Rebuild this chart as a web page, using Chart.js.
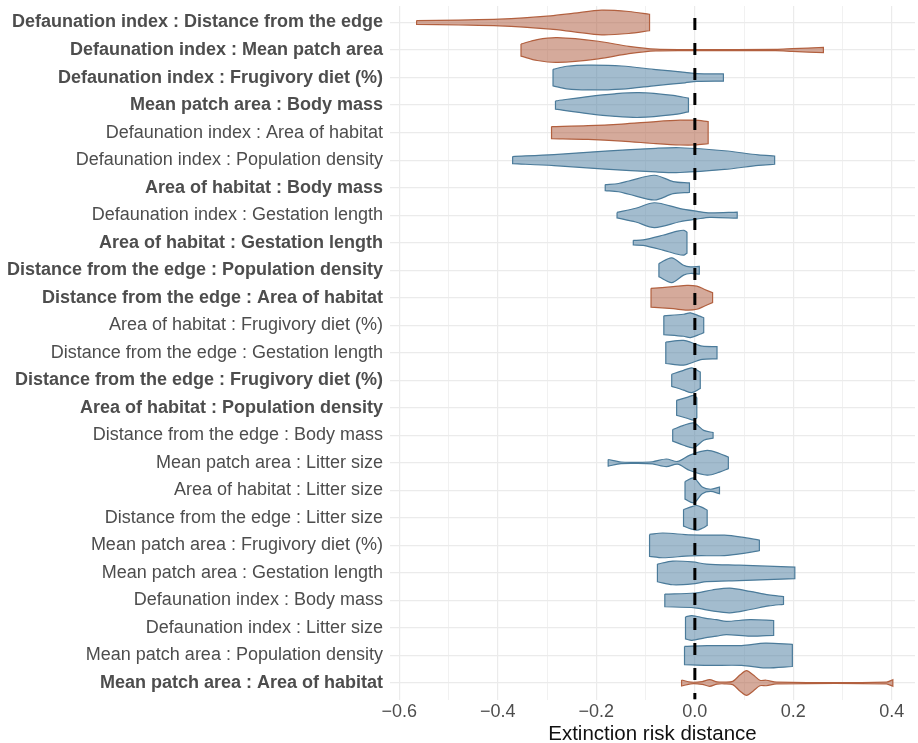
<!DOCTYPE html>
<html>
<head>
<meta charset="utf-8">
<script src="https://cdn.jsdelivr.net/npm/chart.js@4.4.1/dist/chart.umd.min.js"></script>
<style>
  html, body { margin: 0; padding: 0; background: #fff; }
  #wrap { width: 918px; height: 743px; }
</style>
</head>
<body>
<div id="wrap"><canvas id="violins"></canvas></div>
<script>
// rows, top to bottom
const rowLabels = [
    'Defaunation index : Distance from the edge',
    'Defaunation index : Mean patch area',
    'Defaunation index : Frugivory diet (%)',
    'Mean patch area : Body mass',
    'Defaunation index : Area of habitat',
    'Defaunation index : Population density',
    'Area of habitat : Body mass',
    'Defaunation index : Gestation length',
    'Area of habitat : Gestation length',
    'Distance from the edge : Population density',
    'Distance from the edge : Area of habitat',
    'Area of habitat : Frugivory diet (%)',
    'Distance from the edge : Gestation length',
    'Distance from the edge : Frugivory diet (%)',
    'Area of habitat : Population density',
    'Distance from the edge : Body mass',
    'Mean patch area : Litter size',
    'Area of habitat : Litter size',
    'Distance from the edge : Litter size',
    'Mean patch area : Frugivory diet (%)',
    'Mean patch area : Gestation length',
    'Defaunation index : Body mass',
    'Defaunation index : Litter size',
    'Mean patch area : Population density',
    'Mean patch area : Area of habitat'
];
const boldRows = [0, 1, 2, 3, 6, 8, 9, 10, 13, 14, 24];
const brownRows = [0, 1, 4, 10, 24];

// violin outlines: distance values along the row and half widths (in row units)
const profileX = [
    [-0.565, -0.48, -0.397, -0.293, -0.245, -0.189, -0.134, -0.092],
    [-0.353, -0.32, -0.279, -0.196, -0.134, -0.079, 0.0, 0.164, 0.198, 0.261],
    [-0.288, -0.26, -0.217, -0.148, -0.079, -0.02, 0.004, 0.058],
    [-0.283, -0.217, -0.162, -0.113, -0.044, -0.013],
    [-0.291, -0.217, -0.148, -0.079, -0.03, 0.0, 0.027],
    [-0.37, -0.286, -0.182, -0.079, -0.03, 0.06, 0.129, 0.162],
    [-0.182, -0.155, -0.134, -0.082, -0.044, -0.011],
    [-0.158, -0.12, -0.082, -0.03, 0.005, 0.03, 0.086],
    [-0.125, -0.105, -0.065, -0.035, -0.022, -0.016],
    [-0.073, -0.047, -0.023, -0.009, 0.009],
    [-0.089, -0.044, -0.016, 0.004, 0.02, 0.036],
    [-0.063, -0.023, -0.009, 0.01, 0.018],
    [-0.059, -0.023, 0.004, 0.015, 0.045],
    [-0.047, -0.023, -0.006, 0.011],
    [-0.037, -0.016, -0.002, 0.004],
    [-0.045, -0.023, -0.002, 0.018, 0.037],
    [-0.176, -0.15, -0.12, -0.086, -0.058, -0.035, -0.01, 0.025, 0.05, 0.068],
    [-0.02, -0.002, 0.015, 0.032, 0.05],
    [-0.023, -0.008, 0.004, 0.015, 0.025],
    [-0.092, -0.065, -0.009, 0.06, 0.095, 0.131],
    [-0.076, -0.045, -0.005, 0.024, 0.09, 0.203],
    [-0.061, 0.0, 0.035, 0.071, 0.112, 0.15, 0.18],
    [-0.019, -0.006, 0.02, 0.044, 0.064, 0.112, 0.16],
    [-0.021, 0.025, 0.095, 0.143, 0.198],
    [-0.027, -0.008, 0.015, 0.03, 0.045, 0.06, 0.077, 0.092, 0.105, 0.118, 0.132, 0.145, 0.166, 0.389, 0.402]
];
const profileW = [
    [0.07, 0.09, 0.12, 0.24, 0.34, 0.45, 0.40, 0.30],
    [0.22, 0.38, 0.45, 0.32, 0.13, 0.03, 0.02, 0.025, 0.05, 0.095],
    [0.30, 0.41, 0.45, 0.42, 0.29, 0.19, 0.14, 0.13],
    [0.15, 0.31, 0.41, 0.45, 0.35, 0.25],
    [0.22, 0.25, 0.31, 0.40, 0.45, 0.45, 0.40],
    [0.13, 0.20, 0.33, 0.43, 0.45, 0.34, 0.19, 0.15],
    [0.11, 0.15, 0.24, 0.45, 0.22, 0.17],
    [0.10, 0.25, 0.45, 0.24, 0.14, 0.08, 0.11],
    [0.085, 0.10, 0.27, 0.42, 0.45, 0.38],
    [0.24, 0.45, 0.18, 0.12, 0.14],
    [0.34, 0.40, 0.45, 0.42, 0.30, 0.18],
    [0.34, 0.40, 0.45, 0.33, 0.27],
    [0.39, 0.45, 0.30, 0.24, 0.22],
    [0.22, 0.36, 0.45, 0.30],
    [0.27, 0.38, 0.45, 0.36],
    [0.21, 0.36, 0.45, 0.18, 0.10],
    [0.12, 0.03, 0.02, 0.04, 0.14, 0.05, 0.28, 0.45, 0.34, 0.21],
    [0.32, 0.45, 0.12, 0.04, 0.12],
    [0.30, 0.40, 0.45, 0.38, 0.28],
    [0.40, 0.45, 0.38, 0.37, 0.30, 0.19],
    [0.32, 0.43, 0.40, 0.32, 0.28, 0.21],
    [0.23, 0.27, 0.38, 0.45, 0.33, 0.20, 0.14],
    [0.40, 0.45, 0.36, 0.30, 0.24, 0.30, 0.27],
    [0.33, 0.36, 0.36, 0.45, 0.40],
    [0.11, 0.03, 0.05, 0.12, 0.04, 0.03, 0.06, 0.30, 0.45, 0.30, 0.10, 0.10, 0.03, 0.03, 0.12]
];

const xTicks = [-0.6, -0.5, -0.4, -0.3, -0.2, -0.1, 0.0, 0.1, 0.2, 0.3, 0.4];
const xMin = -0.619, xMax = 0.447;

const FONT = '"Liberation Sans", Arial, Helvetica, sans-serif';
const BLUE_LINE = '#4b7b9a', BLUE_FILL = 'rgba(72, 122, 158, 0.5)';
const BROWN_LINE = '#b2603f', BROWN_FILL = 'rgba(172, 86, 56, 0.5)';

// outline: upper edge left->right, lower edge right->left, back to start
// corner points doubled so the flat ends stay straight with tension on
function outline(row) {
    const xs = profileX[row], ws = profileW[row];
    const up = xs.map((x, i) => ({ x: x, y: row - ws[i] }));
    const lo = xs.map((x, i) => ({ x: x, y: row + ws[i] })).reverse();
    const n = up.length;
    return [up[0], ...up, up[n - 1], lo[0], ...lo, lo[n - 1], up[0]].map(p => ({ x: p.x, y: p.y }));
}

const datasets = rowLabels.map((name, r) => {
    const brown = brownRows.includes(r);
    return {
        label: name,
        data: outline(r),
        borderColor: brown ? BROWN_LINE : BLUE_LINE,
        backgroundColor: brown ? BROWN_FILL : BLUE_FILL,
        borderWidth: 1.2,
        pointRadius: 0,
        tension: 0.3,
        fill: false,
        violin: true,
        order: 1
    };
});

datasets.push({
    label: 'zero',
    data: [{ x: 0, y: -0.6 }, { x: 0, y: rowLabels.length - 0.4 }],
    borderColor: '#000',
    borderWidth: 3,
    borderDash: [12, 13],
    borderDashOffset: 12.9,
    pointRadius: 0,
    tension: 0,
    fill: false,
    order: 0
});

// fills each violin outline before its border is stroked
const violinFill = {
    id: 'violinFill',
    beforeDatasetDraw(chart, args) {
        const ds = chart.data.datasets[args.index];
        if (!ds.violin) return;
        const line = args.meta.dataset;
        const ctx = chart.ctx;
        ctx.save();
        ctx.beginPath();
        if (typeof line.path === 'function') {
            line.updateControlPoints(chart.chartArea, 'x');
            line.path(ctx);
        } else {
            args.meta.data.forEach((p, i) => i ? ctx.lineTo(p.x, p.y) : ctx.moveTo(p.x, p.y));
        }
        ctx.closePath();
        ctx.fillStyle = ds.backgroundColor;
        ctx.fill();
        ctx.restore();
    }
};

new Chart(document.getElementById('violins').getContext('2d'), {
    type: 'line',
    data: { datasets: datasets },
    plugins: [violinFill],
    options: {
        responsive: true,
        maintainAspectRatio: false,
        animation: false,
        layout: { padding: { top: 6, right: 3, bottom: 0, left: 0 } },
        plugins: {
            legend: { display: false },
            tooltip: { enabled: false }
        },
        scales: {
            x: {
                type: 'linear',
                min: xMin,
                max: xMax,
                afterBuildTicks: s => { s.ticks = xTicks.map(v => ({ value: v })); },
                afterFit: s => { s.height = 43.5; s.paddingLeft = 0; s.paddingRight = 0; },
                border: { display: false },
                grid: {
                    drawTicks: false,
                    color: '#ebebeb',
                    lineWidth: c => (Math.round(c.tick.value * 10) % 2 === 0 ? 1.2 : 0.7)
                },
                ticks: {
                    autoSkip: false,
                    maxRotation: 0,
                    padding: 2,
                    color: '#4d4d4d',
                    font: { family: FONT, size: 18 },
                    callback: v => {
                        const t = Math.round(v * 10);
                        if (t % 2 !== 0) return '';
                        return (t < 0 ? '\u2212' : '') + Math.abs(v).toFixed(1);
                    }
                },
                title: {
                    display: true,
                    text: 'Extinction risk distance',
                    color: '#111',
                    padding: { top: 0, bottom: -4 },
                    font: { family: FONT, size: 20.5 }
                }
            },
            y: {
                type: 'linear',
                reverse: true,
                min: -0.6,
                max: rowLabels.length - 0.4,
                afterBuildTicks: s => { s.ticks = rowLabels.map((_, i) => ({ value: i })); },
                afterFit: s => { s.width = 390; s.paddingTop = 0; s.paddingBottom = 0; },
                border: { display: false },
                grid: { drawTicks: false, color: '#ebebeb', lineWidth: 1.2 },
                ticks: {
                    autoSkip: false,
                    padding: 7,
                    color: '#4d4d4d',
                    font: c => ({
                        family: FONT,
                        size: 18,
                        weight: boldRows.includes(c.tick && c.tick.value) ? 'bold' : 'normal'
                    }),
                    callback: v => rowLabels[v]
                }
            }
        }
    }
});
</script>
</body>
</html>
